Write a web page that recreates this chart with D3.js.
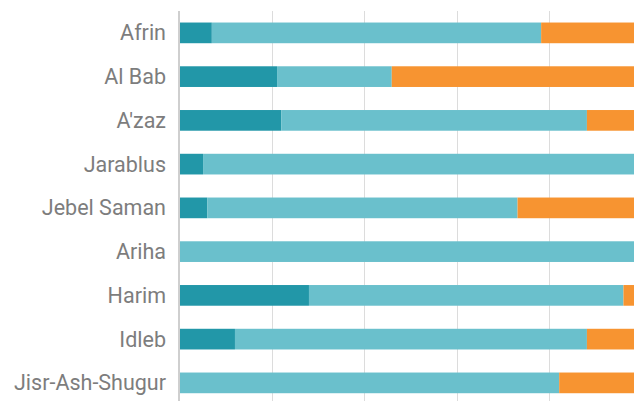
<!DOCTYPE html>
<html>
<head>
<meta charset="utf-8">
<script src="https://cdn.jsdelivr.net/npm/d3@7"></script>
<style>
  html, body { margin: 0; padding: 0; background: #fff; overflow: hidden; }
  .cat-label { font-family: Roboto, sans-serif; font-size: 21.5px; fill: #7d7d7d; }
</style>
</head>
<body>
<div id="idp-chart"></div>
<script>
(function(d3) {
  'use strict';

  var districts = ['Afrin', 'Al Bab', "A'zaz", 'Jarablus', 'Jebel Saman', 'Ariha', 'Harim', 'Idleb', 'Jisr-Ash-Shugur'];
  var seriesKeys = ['first', 'second', 'third'];
  // shares in percent, per district
  var firstShare  = [7.1, 21.2, 22.1, 5.2, 6.1, 0, 28.1, 12.1, 0];
  var secondShare = [71.2, 24.8, 66.1, 94.8, 67.1, 100, 68.0, 76.1, 82.2];
  var thirdShare  = [21.7, 54.0, 11.8, 0, 26.8, 0, 3.9, 11.8, 17.8];
  var xTicks = [0, 20, 40, 60, 80];

  var colorMap = {
    first: '#2297a8',
    second: '#6ac0cc',
    third: '#f79431'
  };

  var width = 634, height = 401;
  var left = 179, top = 11;
  var plotWidth = 462.5;
  var step = 43.75;

  var rows = districts.map(function(name, i) {
    return { name: name, first: firstShare[i], second: secondShare[i], third: thirdShare[i] };
  });

  var svg = d3.select('#idp-chart')
    .append('svg')
    .attr('width', width)
    .attr('height', height);

  var x = d3.scaleLinear().domain([0, 100]).range([left, left + plotWidth]);
  var y = d3.scaleBand()
    .domain(districts)
    .range([top, top + step * districts.length])
    .paddingInner(0.527)
    .paddingOuter(0.2635);

  // vertical grid
  svg.append('g')
    .selectAll('line')
    .data(xTicks.slice(1))
    .enter().append('line')
    .attr('x1', function(d) { return Math.round(x(d)) + 0.5; })
    .attr('x2', function(d) { return Math.round(x(d)) + 0.5; })
    .attr('y1', top)
    .attr('y2', height)
    .attr('stroke', '#dcdcdc')
    .attr('stroke-width', 1);

  var stack = d3.stack().keys(seriesKeys);
  var layers = stack(rows);

  svg.append('g')
    .selectAll('g')
    .data(layers)
    .enter().append('g')
    .attr('fill', function(d) { return colorMap[d.key]; })
    .selectAll('rect')
    .data(function(d) { return d; })
    .enter().append('rect')
    .attr('x', function(d) { return x(d[0]); })
    .attr('y', function(d) { return y(d.data.name); })
    .attr('width', function(d) { return x(d[1]) - x(d[0]); })
    .attr('height', y.bandwidth());

  // baseline axis
  svg.append('line')
    .attr('x1', x(0))
    .attr('x2', x(0))
    .attr('y1', top)
    .attr('y2', height)
    .attr('stroke', '#cfcfcf')
    .attr('stroke-width', 2);

  var yAxis = svg.append('g')
    .attr('transform', 'translate(' + (left - 13) + ',0)')
    .call(d3.axisLeft(y).tickSize(0).tickPadding(0));
  yAxis.select('.domain').remove();
  yAxis.selectAll('text')
    .attr('class', 'cat-label')
    .attr('fill', null)
    .attr('font-size', null)
    .attr('font-family', null)
    .attr('dy', '0.35em');
}(d3));
</script>
</body>
</html>
